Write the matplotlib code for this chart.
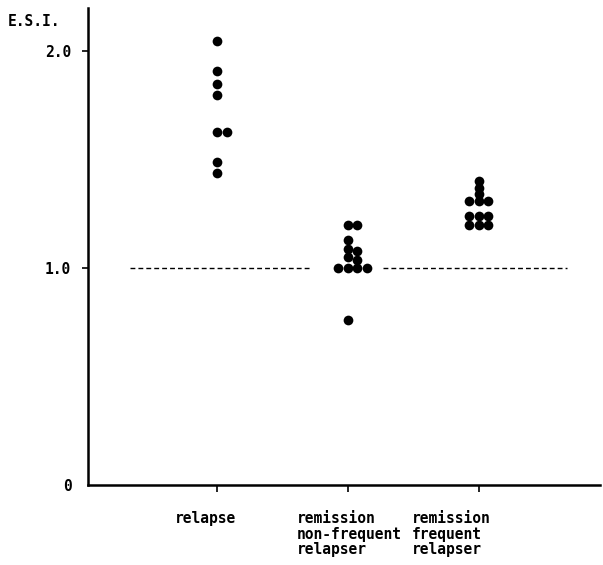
import matplotlib
matplotlib.use("Agg")
import matplotlib.pyplot as plt
import numpy as np

# ---- data ----
groups = ["relapse", "remission\nnon-frequent\nrelapser", "remission\nfrequent\nrelapser"]
relapse = [2.05, 1.91, 1.85, 1.80, 1.63, 1.63, 1.49, 1.44]
relapse_slot = [0, 0, 0, 0, 0, 1, 0, 0]
nonfreq = [1.20, 1.20, 1.13, 1.09, 1.08, 1.05, 1.04, 1.00, 1.00, 1.00, 1.00, 0.76]
nonfreq_slot = [0, 1, 0, 0, 1, 0, 1, -1, 0, 1, 2, 0]
freq = [1.40, 1.37, 1.34, 1.31, 1.31, 1.31, 1.24, 1.24, 1.24, 1.20, 1.20, 1.20]
freq_slot = [0, 0, 0, -1, 0, 1, -1, 0, 1, -1, 0, 1]
ref_level = 1.0
ref_segments = [(0.33, 1.71), (2.27, 3.68)]
ytick_vals = [1.0, 2.0]
ytick_labels = ["1.0", "2.0"]

FONT = "DejaVu Sans Mono"

fig = plt.figure(figsize=(6.03, 5.65), dpi=100)
ax = fig.add_axes([88/603, 1-485/565, 512/603, 477/565])

slot_w = 0.073
series = [(relapse, relapse_slot), (nonfreq, nonfreq_slot), (freq, freq_slot)]
for i, (vals, slots) in enumerate(series):
    xs = [i + 1 + s * slot_w for s in slots]
    ax.plot(xs, vals, "o", color="black", markersize=7.0, markeredgewidth=0)

for x0, x1 in ref_segments:
    ax.plot([x0, x1], [ref_level, ref_level], color="black", lw=1.0,
            dashes=(3.5, 2.2))

ax.set_xlim(0.01, 3.93)
ax.set_ylim(0, 2.2)

for s in ["top", "right"]:
    ax.spines[s].set_visible(False)
for s in ["left", "bottom"]:
    ax.spines[s].set_linewidth(1.8)

ax.set_xticks([1, 2, 3])
ax.set_xticklabels([])
ax.tick_params(axis="x", direction="out", length=5, width=1.2)
ax.set_yticks(ytick_vals)
ax.set_yticklabels(ytick_labels, fontfamily=FONT, fontweight="bold", fontsize=10.5)
ax.tick_params(axis="y", direction="out", length=4, width=1.2, pad=8)

# zero label
ax.text(-0.031, -0.008, "0", transform=ax.get_yaxis_transform(), ha="right", va="center",
        fontfamily=FONT, fontweight="bold", fontsize=10.5)

# group labels (left aligned blocks)
label_left = [0.677, 1.61, 2.49]
for g, xl in zip(groups, label_left):
    ax.text(xl, -0.055, g, transform=ax.get_xaxis_transform(), ha="left", va="top",
            fontfamily=FONT, fontweight="bold", fontsize=10.5, linespacing=1.05)

fig.text(8/603, 1-22/565, "E.S.I.", ha="left", va="center",
         fontfamily=FONT, fontweight="bold", fontsize=10.5)

fig.savefig("out.png", dpi=100)
